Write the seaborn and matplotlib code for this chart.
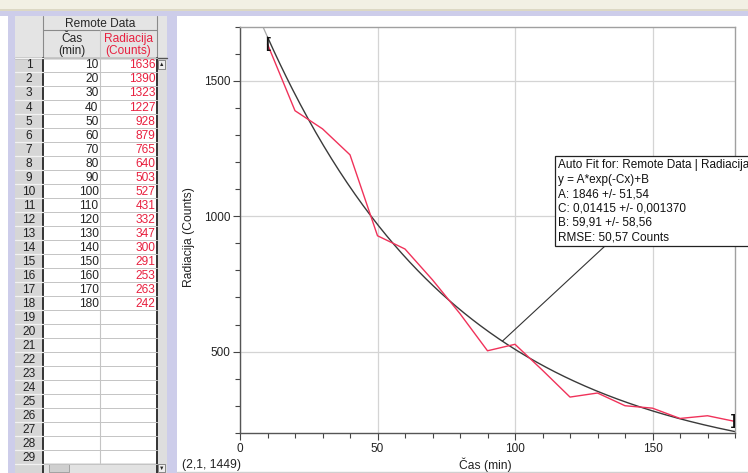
import numpy as np
import pandas as pd
import matplotlib
matplotlib.use("Agg")
import matplotlib.pyplot as plt
from matplotlib.patches import Rectangle
from matplotlib.ticker import MultipleLocator
import seaborn as sns

# data from the Logger Pro table
cas = [10, 20, 30, 40, 50, 60, 70, 80, 90, 100, 110, 120, 130, 140, 150, 160, 170, 180]
radiacija = [1636, 1390, 1323, 1227, 928, 879, 765, 640, 503, 527, 431, 332, 347, 300, 291, 253, 263, 242]

# auto fit parameters shown in the box  y = A*exp(-Cx)+B
fit_A = 1846
fit_C = 0.01415
fit_B = 59.91
fit_lines = ["Auto Fit for: Remote Data | Radiacija",
             "y = A*exp(-Cx)+B",
             "A: 1846 +/- 51,54",
             "C: 0,01415 +/- 0,001370",
             "B: 59,91 +/- 58,56",
             "RMSE: 50,57 Counts"]
status_text = "(2,1, 1449)"
n_rows = 29

df = pd.DataFrame({"Cas": cas, "Radiacija": radiacija})

sns.set_theme(style="white")
plt.rcParams["font.family"] = ["Liberation Sans", "DejaVu Sans"]

RED = "#f0325a"
RED_TXT = "#e8203f"
LAV = "#cdcdea"
FS = 8.3

fig = plt.figure(figsize=(7.48, 4.73), dpi=100)
fig.patch.set_facecolor("white")

# background / window chrome + table, in pixel coordinates
bg = fig.add_axes([0, 0, 1, 1], zorder=0)
bg.set_xlim(0, 748)
bg.set_ylim(473, 0)
bg.axis("off")

bg.add_patch(Rectangle((0, 0), 748, 9, fc="#f2f0e4", ec="none"))
bg.add_patch(Rectangle((0, 9), 748, 2, fc="#dcd8c4", ec="none"))
bg.add_patch(Rectangle((0, 11), 748, 5, fc=LAV, ec="none"))
bg.add_patch(Rectangle((8, 11), 7, 462, fc=LAV, ec="none"))
bg.add_patch(Rectangle((167, 11), 10, 462, fc=LAV, ec="none"))
bg.plot([177, 748], [471.5, 471.5], color="#d0d0d0", lw=1.0)

# table geometry
x_num, x_c1, x_c2, x_sc, x_end = 15, 43, 100, 157, 167
y_h1, y_h2, y_r0 = 16, 30, 58
row_h = 14.0

# header block
bg.add_patch(Rectangle((x_num, y_h1), x_end - x_num, y_r0 - y_h1, fc="#e4e4e4", ec="none"))
bg.add_patch(Rectangle((x_num, y_r0), x_c1 - x_num, 473 - y_r0, fc="#d6d6d6", ec="none"))
bg.add_patch(Rectangle((x_c1, y_r0), x_sc - x_c1, 463 - y_r0, fc="white", ec="none"))
bg.add_patch(Rectangle((x_sc, y_r0), x_end - x_sc, 473 - y_r0, fc="#dedede", ec="none"))
bg.add_patch(Rectangle((x_c1, 463), x_sc - x_c1, 10, fc="#e2e2e2", ec="none"))
bg.add_patch(Rectangle((x_c1 + 6, 464), 20, 8, fc="#cfcfcf", ec="#999999", lw=0.6))

gl = "#c4c4c4"
bg.plot([x_c1, x_sc], [y_h2, y_h2], color="#8a8a8a", lw=0.8)
bg.plot([x_num, x_end], [y_r0, y_r0], color="#555555", lw=1.0)
bg.plot([x_c2, x_c2], [y_h2, 463], color=gl, lw=0.8)
bg.plot([x_c1, x_c1], [y_h1, y_r0], color="#8a8a8a", lw=0.8)
bg.plot([x_sc, x_sc], [y_h1, y_r0], color="#8a8a8a", lw=0.8)
bg.plot([x_c1, x_c1], [y_r0, 473], color="#333333", lw=1.4)
bg.plot([x_sc, x_sc], [y_r0, 473], color="#333333", lw=1.4)
for i in range(n_rows + 1):
    yy = y_r0 + i * row_h
    bg.plot([x_c1, x_sc], [yy, yy], color=gl, lw=0.7)
    bg.plot([x_num, x_c1], [yy, yy], color="#f2f2f2", lw=0.9)

bg.text((x_c1 + x_sc) / 2, (y_h1 + y_h2) / 2 + 1, "Remote Data", ha="center", va="center", fontsize=FS + 0.3)
bg.text((x_c1 + x_c2) / 2, (y_h2 + y_r0) / 2 + 1, "Čas\n(min)", ha="center", va="center",
        fontsize=FS + 0.3, linespacing=1.0)
bg.text((x_c2 + x_sc) / 2, (y_h2 + y_r0) / 2 + 1, "Radiacija\n(Counts)", ha="center", va="center",
        fontsize=FS + 0.3, color=RED_TXT, linespacing=1.0)

for i in range(n_rows):
    yc = y_r0 + (i + 0.5) * row_h + 0.5
    bg.text((x_num + x_c1) / 2, yc, str(i + 1), ha="center", va="center", fontsize=FS + 0.3, color="#222222")
    if i < len(df):
        bg.text(x_c2 - 1.5, yc, str(df.Cas[i]), ha="right", va="center", fontsize=FS + 0.3, color="#222222")
        bg.text(x_sc - 1.5, yc, str(df.Radiacija[i]), ha="right", va="center", fontsize=FS + 0.3, color=RED_TXT)

# scroll arrows
bg.add_patch(Rectangle((x_sc + 1.5, y_r0 + 2), 7, 9, fc="#eeeeee", ec="#777777", lw=0.6))
bg.text(x_sc + 5, y_r0 + 7, "▲", ha="center", va="center", fontsize=4, color="#222222")
bg.add_patch(Rectangle((x_sc + 1.5, 464), 7, 8, fc="#eeeeee", ec="#777777", lw=0.6))
bg.text(x_sc + 5, 468, "▼", ha="center", va="center", fontsize=4, color="#222222")

# the graph
ax = fig.add_axes([240 / 748, 1 - 432.8 / 473, 495 / 748, 406 / 473], zorder=2)
ax.set_facecolor("white")

x_fit = np.linspace(10, 180, 300)
x_ext = np.linspace(0, 10, 40)
fit = lambda x: fit_A * np.exp(-fit_C * x) + fit_B

sns.lineplot(x=x_ext, y=fit(x_ext), color="#a8a8a8", lw=0.9, ax=ax)
sns.lineplot(x=x_fit, y=fit(x_fit), color="#3a3a3a", lw=1.0, ax=ax)
sns.lineplot(data=df, x="Cas", y="Radiacija", color=RED, lw=1.0, ax=ax)

ax.set_xlim(0, 180)
ax.set_ylim(200, 1700)
ax.xaxis.set_major_locator(MultipleLocator(50))
ax.xaxis.set_minor_locator(MultipleLocator(10))
ax.yaxis.set_major_locator(MultipleLocator(500))
ax.yaxis.set_minor_locator(MultipleLocator(100))
ax.grid(True, which="major", color="#d4d4d4", lw=0.9)
ax.tick_params(which="major", direction="out", length=5, width=0.8, color="#444444",
               labelsize=FS + 0.2, labelcolor="#222222", pad=2, bottom=True, left=True)
ax.tick_params(which="minor", direction="out", length=3.5, width=0.8, color="#444444",
               bottom=True, left=True)
for side in ["left", "bottom"]:
    ax.spines[side].set_color("#555555")
    ax.spines[side].set_linewidth(1.0)
for side in ["top", "right"]:
    ax.spines[side].set_color("#a0a0a0")
    ax.spines[side].set_linewidth(1.0)

ax.set_xlabel("Čas (min)", fontsize=FS + 0.4, color="#222222")
ax.set_ylabel("Radiacija (Counts)", fontsize=FS + 0.4, color="#222222")
ax.xaxis.set_label_coords(0.495, -0.062)
ax.yaxis.set_label_coords(-0.09, 0.482)

# fit range brackets at first and last points
ax.text(df.Cas.iloc[0], df.Radiacija.iloc[0], "[", ha="center", va="center",
        fontsize=10.5, fontweight="bold", color="#111111")
ax.text(df.Cas.iloc[-1] - 0.6, df.Radiacija.iloc[-1], "]", ha="center", va="center",
        fontsize=10.5, fontweight="bold", color="#111111", clip_on=False)

# auto fit box (runs past the right edge of the window, as in the screenshot)
x_pt = 95.4
ax.annotate("\n".join(fit_lines), xy=(x_pt, fit(x_pt)), xytext=(115.5, 1210),
            textcoords="data", ha="left", va="top", fontsize=8.5, linespacing=1.26,
            color="#111111", annotation_clip=False,
            bbox=dict(boxstyle="square,pad=0.25", fc="white", ec="#222222", lw=0.9),
            arrowprops=dict(arrowstyle="-", color="#333333", lw=0.8,
                            relpos=(0.5, 0.5), shrinkA=0, shrinkB=0))
bg.add_patch(Rectangle((557, 154), 5, 5, fc="#777777", ec="#333333", lw=0.5, zorder=5))
bg.add_patch(Rectangle((563, 154), 5, 5, fc="#999999", ec="#555555", lw=0.5, zorder=5))

fig.text(182 / 748, 1 - 465 / 473, status_text, ha="left", va="center", fontsize=FS + 0.4, color="#222222")

fig.savefig("out.png", dpi=100)
